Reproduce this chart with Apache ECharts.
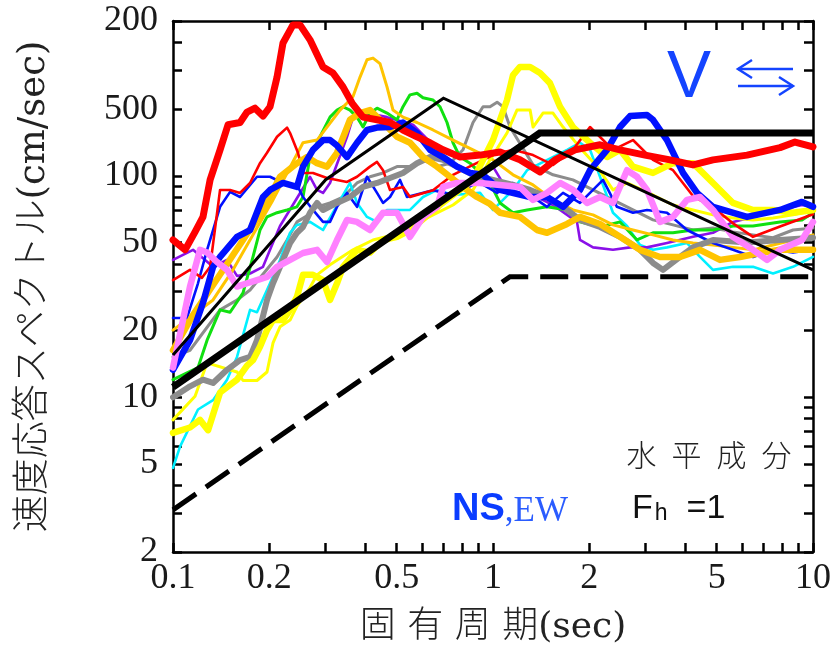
<!DOCTYPE html>
<html><head><meta charset="utf-8">
<script src="https://cdn.jsdelivr.net/npm/echarts@6/dist/echarts.min.js"></script>
<style>html,body{margin:0;padding:0;background:#fff}#c{width:832px;height:653px}</style>
</head><body><div id="c"></div>
<script>
// response spectra: [period (sec), velocity (cm/sec)]
const redNS = [[0.1,51.3],[0.1091,46.3],[0.1172,55.8],[0.1241,65.2],[0.1306,95.8],[0.1403,131],[0.1486,170],[0.1620,174],[0.1704,194],[0.1804,202],[0.1911,186],[0.2010,205],[0.2114,279],[0.2207,398],[0.2371,480],[0.2494,480],[0.2680,411],[0.2943,310],[0.3162,291],[0.3398,252],[0.3626,213],[0.3924,184],[0.4341,179],[0.4766,174],[0.5233,161],[0.5788,150],[0.6356,141],[0.6979,131],[0.7888,121.5],[0.9108,124],[1.052,128],[1.214,118],[1.403,104],[1.562,118],[1.804,131],[2.160,138],[2.494,131],[2.986,124],[3.574,118],[4.217,112],[4.870,118],[6.220,124],[7.888,134],[8.786,142],[10,135]];
const redEW = [[0.1,33.8],[0.1130,37.6],[0.1232,34.6],[0.1306,38.8],[0.1403,86.3],[0.1508,86.3],[0.1620,83.7],[0.1741,92.8],[0.1870,114],[0.1967,127],[0.2114,150],[0.2272,165],[0.2322,156],[0.2458,127],[0.2548,103],[0.2738,103],[0.3029,97.8],[0.3255,95.8],[0.3498,93.8],[0.3759,99],[0.4127,110],[0.4341,115.5],[0.4532,106],[0.4766,86.3],[0.5233,89],[0.5504,80.2],[0.6494,86],[0.75,101],[0.866,112],[1.0,124],[1.155,131],[1.334,124],[1.54,112],[1.778,131],[2.010,166],[2.371,131],[2.738,145],[3.162,118],[3.652,106],[4.217,81],[4.870,72],[5.624,61],[6.494,53],[7.888,59],[10,67]];
const blueNS = [[0.1,13.3],[0.1130,18.1],[0.1241,26.7],[0.1334,38.8],[0.1403,43],[0.1585,53],[0.1741,56.9],[0.1911,80.2],[0.2010,86.3],[0.2207,92.8],[0.2440,89],[0.2548,110],[0.2738,131],[0.2943,145],[0.3095,145],[0.3255,137],[0.3498,121.5],[0.3759,141],[0.4039,161],[0.4341,165],[0.4766,166],[0.5233,174],[0.5788,156],[0.6356,131],[0.6979,121.5],[0.7719,110],[0.8476,103],[0.9307,101],[1.052,86.3],[1.306,80.2],[1.475,80.2],[1.655,72.4],[1.870,86.3],[2.010,106],[2.272,131],[2.494,166],[2.680,186],[3.029,188],[3.162,179],[3.498,145],[3.924,103],[4.341,83.7],[4.870,72.4],[6.220,65.2],[7.888,70.1],[9.24,76.2],[10,72.4]];
const blueEW = [[0.1,22.8],[0.1106,22.8],[0.1197,32.7],[0.1278,46.3],[0.1403,72.4],[0.1508,84.6],[0.1620,80.2],[0.1830,99],[0.2010,99],[0.2207,92.8],[0.2440,90.9],[0.2548,80.2],[0.2738,70.1],[0.2943,61.9],[0.3095,61.9],[0.3255,72.4],[0.3498,83.7],[0.3759,72.4],[0.4039,99],[0.4341,83.7],[0.4532,75.4],[0.4766,80.2],[0.5121,95.8],[0.5386,80.2],[0.6494,86],[0.75,82],[0.866,91],[0.9108,92.8],[1.030,83.7],[1.155,92.8],[1.475,72.4],[1.655,83.7],[1.870,75.4],[2.207,95.8],[2.440,72.4],[2.738,68.1],[3.029,70.1],[3.498,68.1],[4.039,56.9],[4.870,49.7],[5.624,46.3],[6.494,43],[7.5,46.3],[8.66,45],[10,46.3]];
const yellowNS = [[0.1,6.9],[0.1130,7.3],[0.1214,7.9],[0.1287,7.1],[0.1403,10.5],[0.1585,12],[0.1704,13.9],[0.1778,14.7],[0.1870,16.9],[0.1967,20.1],[0.2054,22.3],[0.2207,22.3],[0.2322,24.8],[0.2440,28.4],[0.2548,35.7],[0.2738,35.7],[0.2943,33.8],[0.3095,27.5],[0.3255,32.7],[0.3398,38.8],[0.3759,46.3],[0.4127,45],[0.4532,51.3],[0.5012,53],[0.5504,56.9],[0.6830,73.8],[0.866,95.8],[1.0,145],[1.106,220],[1.155,285],[1.214,310],[1.306,310],[1.403,291],[1.507,262],[1.620,205],[1.778,166],[2.010,141],[2.272,121.5],[2.494,131],[2.738,110],[3.162,103],[3.652,114],[4.217,114],[4.870,92.8],[5.624,75.4],[6.494,70.1],[7.5,70.1],[8.66,68.1],[10,70.1]];
const yellowEW = [[0.1,7.9],[0.1172,10.1],[0.1278,14.3],[0.1585,13],[0.1655,11.9],[0.1830,11.9],[0.1967,13],[0.2054,17.6],[0.216,20.8],[0.2322,22.3],[0.2440,25.8],[0.2680,31.3],[0.2819,35.7],[0.3095,39.6],[0.3652,46.3],[0.4217,51.3],[0.487,54.1],[0.5624,60],[0.6494,66.6],[0.75,73.8],[0.866,86.3],[0.9788,118],[1.106,156],[1.188,198],[1.306,198],[1.334,166],[1.433,192],[1.540,192],[1.655,166],[1.870,134],[2.114,110],[2.371,86.3],[2.623,92.8],[3.162,81.9],[3.652,73.8],[4.217,70.1],[4.87,66.6],[5.624,64.5],[6.494,63.2],[7.5,64.5],[8.66,66.6],[10,70.1]];
const goldNS = [[0.1,16.3],[0.1155,23.5],[0.1334,32.1],[0.154,43.9],[0.1911,70.1],[0.216,99],[0.2440,114],[0.2623,121.5],[0.2819,114],[0.3029,110],[0.3255,127],[0.3574,179],[0.3841,192],[0.4127,198],[0.4532,174],[0.5012,150],[0.5504,141],[0.6043,121.5],[0.6684,110],[0.734,99],[0.8060,89],[0.8914,80.2],[0.9788,74.6],[1.052,68.1],[1.214,65.2],[1.373,56.9],[1.475,55.3],[1.704,60.6],[1.870,65.2],[2.160,60.6],[2.494,53],[2.880,46.3],[3.326,43],[3.841,43],[4.435,46.3],[5.121,41.7],[5.914,43],[6.830,44.8],[7.888,46.3],[10,46.3]];
const goldEW = [[0.1,20.1],[0.1155,23.5],[0.1334,27.5],[0.154,37.6],[0.1778,54.1],[0.2054,77.8],[0.2272,103],[0.2548,141],[0.2819,145],[0.3326,198],[0.3498,213],[0.3652,228],[0.3841,279],[0.4039,334],[0.4217,340],[0.4435,321],[0.4664,252],[0.487,198],[0.5233,184],[0.5788,174],[0.6494,161],[0.75,145],[0.866,131],[1.0,118],[1.155,101],[1.334,90.9],[1.54,77.8],[1.778,70.1],[2.054,66.6],[2.371,60],[2.738,56.9],[3.162,54.1],[3.652,51.3],[4.217,49.7],[4.87,48.7],[5.624,47.5],[6.494,46.3],[7.5,48.7],[8.66,51.3],[10,54.1]];
const grayNS = [[0.1,10],[0.1130,11.2],[0.1241,12],[0.1334,11.6],[0.1475,13.3],[0.1620,14.7],[0.1741,15.2],[0.1830,18.1],[0.1967,27.5],[0.2054,32.7],[0.216,38.8],[0.2322,49.7],[0.2440,55.3],[0.2548,58.7],[0.2680,68.1],[0.2819,75.4],[0.2943,70.1],[0.3255,75.4],[0.3574,80.2],[0.3924,89],[0.4341,92.8],[0.5233,103],[0.5788,114],[0.6356,121.5],[0.6979,118],[0.7719,110],[0.866,101],[1.0,95.8],[1.155,90.9],[1.306,86.3],[1.475,80.2],[1.704,70.1],[1.870,63.2],[2.160,58.7],[2.494,53],[2.880,46.3],[3.162,40.4],[3.398,37.6],[3.841,43],[4.217,47.5],[4.870,51.3],[6.220,50],[7.888,51.3],[10,52.5]];
const grayEW = [[0.1,15.2],[0.1130,16.3],[0.1403,24.8],[0.1585,27.5],[0.1741,30.5],[0.2114,43],[0.2272,51.3],[0.2440,61.9],[0.2623,65.9],[0.2819,72.4],[0.3095,75.4],[0.3398,80.2],[0.3759,92.8],[0.4127,99],[0.4532,103],[0.5012,110],[0.5504,110],[0.6043,118],[0.6684,110],[0.734,114],[0.8060,131],[0.8660,174],[0.9307,205],[0.9788,205],[1.030,215],[1.075,205],[1.130,166],[1.334,112],[1.54,101],[1.778,95.8],[2.054,86.3],[2.371,77.8],[2.738,70.1],[3.162,63.2],[3.652,60],[4.217,56.9],[4.87,58.1],[5.624,55.8],[6.494,54.1],[7.5,52.5],[8.66,56.9],[10,58.1]];
const greenEW = [[0.1,12],[0.1197,13.6],[0.1278,18.1],[0.1403,24.8],[0.1508,24.2],[0.1655,29.6],[0.1778,43],[0.1870,56.9],[0.1967,65.2],[0.2114,68.1],[0.2272,70.1],[0.2440,72.4],[0.2548,80.2],[0.2680,121.5],[0.288,150],[0.3095,184],[0.3255,198],[0.3398,205],[0.3574,198],[0.3759,184],[0.3924,166],[0.4127,192],[0.4341,202],[0.4664,192],[0.5012,179],[0.5233,205],[0.5504,232],[0.5788,236],[0.6043,225],[0.6494,220],[0.6830,205],[0.7183,174],[0.75,141],[0.7888,121.5],[0.8476,114],[0.9108,103],[0.9788,92.8],[1.052,75.4],[1.155,68.1],[1.278,70.1],[1.475,72.4],[1.704,70.1],[1.870,61.9],[2.160,58.7],[2.494,61.9],[2.819,51.3],[3.162,55.3],[3.652,55.3],[4.217,56.9],[4.870,56.9],[5.624,59.3],[6.494,59.3],[7.888,61.9],[9.24,63.2],[10,68.1]];
const purpleEW = [[0.1,41.7],[0.1155,46.3],[0.1334,38.8],[0.1475,41.7],[0.1585,35.3],[0.1741,36.2],[0.1911,38.8],[0.2010,46.3],[0.216,59.3],[0.2680,99],[0.2819,86.3],[0.2943,83.7],[0.3095,92.8],[0.3498,150],[0.3652,184],[0.3924,192],[0.4341,188],[0.4664,184],[0.5624,170],[0.6494,138],[0.75,112],[0.866,101],[1.0,110],[1.106,86.3],[1.334,81.9],[1.54,73.8],[1.830,61.9],[1.870,51.3],[2.054,47.5],[2.371,46.3],[2.680,47.5],[3.029,47.5],[3.498,49.7],[4.217,53],[4.870,55.3],[5.624,61.9],[6.494,65.2],[7.888,70.1],[9.24,73.8],[10,72.4]];
const cyanEW = [[0.1,4.8],[0.1052,5.98],[0.1197,8.8],[0.1334,9.7],[0.1475,12],[0.1585,15.2],[0.1741,24.8],[0.1830,24.2],[0.2010,32.7],[0.216,41.7],[0.2322,55.3],[0.2440,60],[0.2680,61.9],[0.2943,56.9],[0.3574,92.8],[0.3759,75.4],[0.4039,65.2],[0.4341,61.9],[0.4664,70.1],[0.5504,70.1],[0.6043,80.2],[0.6684,86.3],[0.75,81.9],[0.9108,83.7],[1.0,70.1],[1.155,86.3],[1.278,106],[1.704,131],[1.870,141],[2.010,131],[2.160,99],[2.371,68.1],[2.623,59.3],[2.880,48.7],[3.162,46.3],[3.498,47.5],[4.039,49.7],[4.435,43],[4.870,37.6],[5.624,38.8],[6.494,38.8],[7.5,36.2],[8.66,38.8],[10,43]];
const pinkNS = [[0.1,13.6],[0.1130,31.6],[0.1214,46.3],[0.1278,45],[0.1373,40.8],[0.1475,37.6],[0.1585,31.6],[0.1704,32.7],[0.1830,33.8],[0.1967,34.9],[0.2114,38.8],[0.2322,41.7],[0.2548,44.8],[0.2819,46.3],[0.3029,40.8],[0.3255,51.3],[0.3498,63.2],[0.3759,61.9],[0.4127,56.9],[0.4532,68.1],[0.5012,68.1],[0.5504,53],[0.6043,65.2],[0.6684,72.4],[0.6979,89],[0.7719,92.8],[0.9108,92.8],[1.214,89],[1.334,77.8],[1.475,83.7],[1.620,92.8],[1.778,86.3],[1.967,75.4],[2.160,80.2],[2.371,75.4],[2.623,106],[2.819,99],[3.029,86.3],[3.326,61.9],[3.652,65.2],[4.039,77.8],[4.435,80.2],[4.870,70.1],[5.624,53],[6.494,46.3],[7.183,41.7],[7.888,46.3],[9.24,51.3],[10,61.9]];
// design spectra
const upperLine = [[0.1,11.1],[1.4,156],[10,156]];
const envelopeLine = [[0.1,15.5],[0.3,96],[0.7,224],[10,37.6]];
const lowerLine = [[0.1,3.1],[1.13,35],[10,35]];
// axis ticks / labels
const xTickValues = [0.1,0.2,0.3,0.4,0.5,0.6,0.7,0.8,0.9,1,2,3,4,5,6,7,8,9,10];
const xLabelValues = [0.1,0.2,0.5,1,2,5,10];
const yTickValues = [2,3,4,5,6,7,8,9,10,20,30,40,50,60,70,80,90,100,200,300,400,500];
const yLabelValues = [2,5,10,20,50,100,200,500];
const yLabelTexts = ['2','5','10','20','50','100','500','200'];

function spec(name, data, color, width, z) {
  return {type:'line', name, data, symbol:'none', showSymbol:false,
    lineStyle:{color, width, cap:'round', join:'round'}, itemStyle:{color}, z, silent:true};
}
function design(name, data, width, type) {
  return {type:'line', name, data, symbol:'none', showSymbol:false,
    lineStyle:{color:'#000', width, type: type||'solid', cap:'butt', join:'miter'}, itemStyle:{color:'#000'}, z:5, silent:true};
}
const serif = '"Liberation Serif", serif';
const lblFmtY = v => { for (let i=0;i<yLabelValues.length;i++) if (Math.abs(v-yLabelValues[i]) < 1e-6*yLabelValues[i]) return yLabelTexts[i]; return ''; };
const lblFmtX = v => { for (let i=0;i<xLabelValues.length;i++) if (Math.abs(v-xLabelValues[i]) < 1e-6*xLabelValues[i]) return String(xLabelValues[i]); return ''; };
const axLine = {show:true, onZero:false, lineStyle:{color:'#000', width:2.5}};
function xAx(pos, withLabel) {
  return {type:'log', logBase:10, min:0.1, max:10, position:pos,
    axisLine:axLine,
    axisTick:{show:true, inside:true, length:9, customValues:xTickValues, lineStyle:{color:'#000', width:2.5}},
    axisLabel:{show:withLabel, customValues:xLabelValues, margin:9, color:'#1a1a1a', fontFamily:serif, fontSize:36, formatter:lblFmtX},
    splitLine:{show:false}, minorTick:{show:false},
    name: withLabel ? '固 有 周 期(sec)' : '', nameLocation:'middle', nameGap:58,
    nameTextStyle:{fontFamily:'"DejaVu Serif","Noto Sans CJK JP"', fontSize:36, fontWeight:300, color:'#222'}};
}
function yAx(pos, withLabel) {
  return {type:'log', logBase:10, min:2, max:500, position:pos,
    axisLine:axLine,
    axisTick:{show:true, inside:true, length:9, customValues:yTickValues, lineStyle:{color:'#000', width:2.5}},
    axisLabel:{show:withLabel, customValues:yLabelValues, margin:15, color:'#1a1a1a', fontFamily:serif, fontSize:36, formatter:lblFmtY},
    splitLine:{show:false}, minorTick:{show:false},
    name: withLabel ? '速度応答スペクトル(cm/sec)' : '', nameLocation:'middle', nameGap:120,
    nameTextStyle:{fontFamily:'"DejaVu Serif","Noto Sans CJK JP"', fontSize:37, fontWeight:300, color:'#222'}};
}
const blue = '#1444ff';
const chart = echarts.init(document.getElementById('c'), null, {renderer:'canvas'});
chart.setOption({
  animation:false,
  backgroundColor:'#fff',
  grid:{left:173, right:19, top:21, bottom:101, containLabel:false, outerBoundsMode:'none'},
  xAxis:[xAx('bottom', true), xAx('top', false)],
  yAxis:[yAx('left', true), yAx('right', false)],
  series:[
    spec('灰EW', grayEW, '#8c8c8c', 3, 2),
    spec('水色EW', cyanEW, '#00f0ff', 2.6, 2),
    spec('紫EW', purpleEW, '#8a10e8', 2.6, 2),
    spec('緑EW', greenEW, '#10e010', 3, 2),
    spec('橙EW', goldEW, '#ffc400', 3, 2),
    spec('黄EW', yellowEW, '#ffff00', 3, 2),
    spec('青EW', blueEW, '#0010ff', 2.6, 2),
    spec('赤EW', redEW, '#ff0000', 2.6, 2),
    spec('灰NS', grayNS, '#8c8c8c', 6, 3),
    spec('橙NS', goldNS, '#ffc400', 6.5, 3),
    spec('黄NS', yellowNS, '#ffff00', 6.5, 3),
    spec('青NS', blueNS, '#0010ff', 6.5, 3),
    spec('桃NS', pinkNS, '#ff80ff', 6.5, 3),
    spec('赤NS', redNS, '#ff0000', 7, 3),
    design('上限', upperLine, 7),
    design('包絡', envelopeLine, 3),
    design('下限', lowerLine, 5, [28,12])
  ],
  graphic:[
    {type:'text', x:689, y:79, z:10, style:{text:'V', font:'66px "Liberation Sans"', fill:blue, textAlign:'center', textVerticalAlign:'middle', align:'center', verticalAlign:'middle'}},
    {type:'line', z:10, shape:{x1:738,y1:69,x2:793,y2:69}, style:{stroke:blue, lineWidth:2.5}},
    {type:'polyline', z:10, shape:{points:[[752,60],[738,69],[752,78]]}, style:{stroke:blue, lineWidth:2.5, fill:null}},
    {type:'line', z:10, shape:{x1:738,y1:86,x2:793,y2:86}, style:{stroke:blue, lineWidth:2.5}},
    {type:'polyline', z:10, shape:{points:[[779,77],[793,86],[779,95]]}, style:{stroke:blue, lineWidth:2.5, fill:null}},
    {type:'text', x:709, y:455, z:10, style:{text:'水\u2002平\u2002成\u2002分', font:'300 30px "Noto Sans CJK JP"', fill:'#222', textAlign:'center', textVerticalAlign:'middle', align:'center', verticalAlign:'middle'}},
    {type:'text', x:452, y:510, z:10, style:{text:'{a|NS}{b|,EW}', textVerticalAlign:'middle', verticalAlign:'middle',
      rich:{a:{font:'bold 38px "Liberation Sans"', fill:'#0a3cff', verticalAlign:'bottom'}, b:{font:'35px "Liberation Serif"', fill:'#2a5cff', verticalAlign:'bottom'}}}},
    {type:'text', x:632, y:509, z:10, style:{text:'{f|F}{h|h}{f|\u2002=1}', textVerticalAlign:'middle', verticalAlign:'middle',
      rich:{f:{font:'34px "Liberation Sans"', fill:'#111', verticalAlign:'bottom'}, h:{font:'23px "Liberation Sans"', fill:'#111', verticalAlign:'bottom', padding:[0,2,1,2]}}}}
  ]
});
</script></body></html>
